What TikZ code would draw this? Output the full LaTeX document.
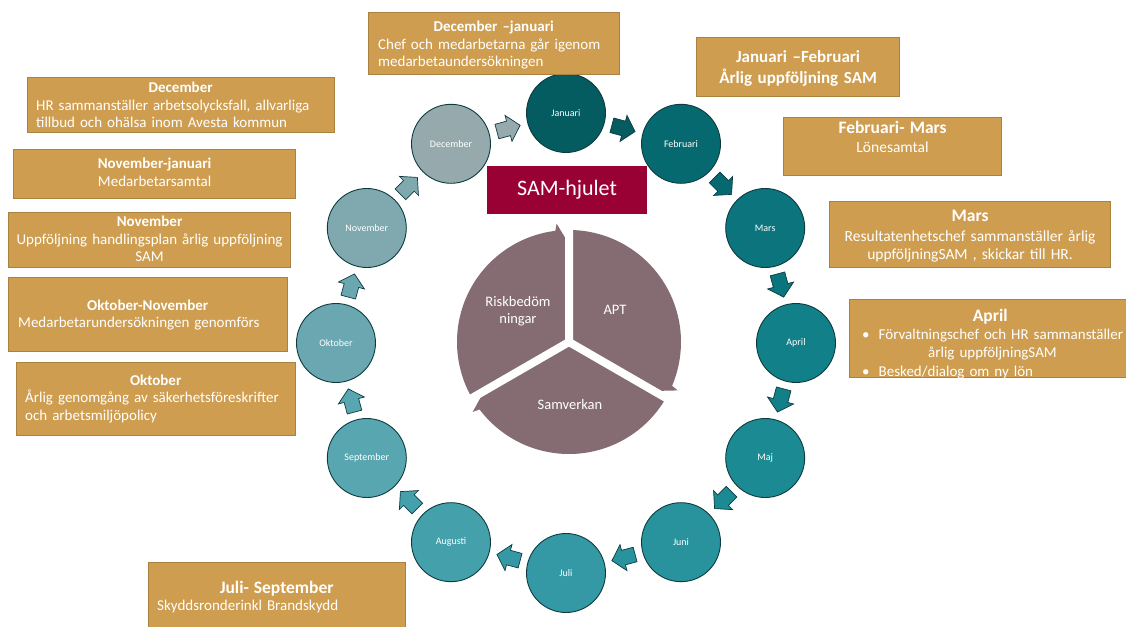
\documentclass[tikz,border=0pt]{standalone}
\usepackage{fontspec}
\setmainfont{Carlito}
\usetikzlibrary{positioning,calc}

\definecolor{cJan}{HTML}{045B60}
\definecolor{cFeb}{HTML}{076970}
\definecolor{cMar}{HTML}{0B747C}
\definecolor{cApr}{HTML}{128088}
\definecolor{cMaj}{HTML}{1B8A92}
\definecolor{cJun}{HTML}{28939C}
\definecolor{cJul}{HTML}{3499A4}
\definecolor{cAug}{HTML}{44A0AB}
\definecolor{cSep}{HTML}{58A6B0}
\definecolor{cOkt}{HTML}{6AA7B0}
\definecolor{cNov}{HTML}{7FA9AF}
\definecolor{cDec}{HTML}{96AAAD}
\definecolor{ringedge}{HTML}{0D3B3F}
\definecolor{boxtan}{HTML}{CF9D4F}
\definecolor{boxedge}{HTML}{A98140}
\definecolor{samred}{HTML}{990033}
\definecolor{wheelcol}{HTML}{846C72}

\newcommand{\headS}[1]{{\fontsize{15}{17.5}\selectfont\bfseries #1}}
\newcommand{\headL}[1]{{\fontsize{17.5}{20}\selectfont\bfseries #1}}

\tikzset{
  month/.style={circle, draw=ringedge, line width=0.9pt, minimum size=79pt, inner sep=0pt,
    text=white, font=\fontsize{10}{12}\selectfont},
  monthstep/.pic={
    \path[draw=ringedge, line width=0.7pt, pic actions]
      (-12,-7.5) -- (0,-7.5) -- (0,-13.5) -- (12,0) -- (0,13.5) -- (0,7.5) -- (-12,7.5) -- cycle;
  },
  notebox/.style={draw=boxedge, fill=boxtan, line width=1.2pt, inner sep=0pt, anchor=north west},
  note/.style={text=white, inner sep=0pt, align=left, font=\fontsize{15}{17.5}\selectfont},
  bignote/.style={text=white, inner sep=0pt, align=center, font=\fontsize{15.5}{18.5}\selectfont},
  wheel/.style={fill=wheelcol},
  wheelgap/.style={draw=white, line width=8pt},
  wheeltext/.style={text=white, align=center, font=\fontsize{14.5}{17}\selectfont},
}

\begin{document}
\begin{tikzpicture}[x=1pt, y=1pt]
\useasboundingbox (-566,-283) rectangle (560,343);

% the year
\node[month, fill=cJan] (jan) at (90:230) {Januari};
\node[month, fill=cFeb] (feb) at (60:230) {Februari};
\node[month, fill=cMar] (mar) at (30:230) {Mars};
\node[month, fill=cApr] (apr) at (0:230) {April};
\node[month, fill=cMaj] (maj) at (-30:230) {Maj};
\node[month, fill=cJun] (jun) at (-60:230) {Juni};
\node[month, fill=cJul] (jul) at (-90:230) {Juli};
\node[month, fill=cAug] (aug) at (-120:230) {Augusti};
\node[month, fill=cSep] (sep) at (-150:230) {September};
\node[month, fill=cOkt] (okt) at (180:230) {Oktober};
\node[month, fill=cNov] (nov) at (150:230) {November};
\node[month, fill=cDec] (dec) at (120:230) {December};

\pic[fill=cDec, rotate=15] at ($(dec)!0.5!(jan)$) {monthstep};
\pic[fill=cJan, rotate=-15] at ($(jan)!0.5!(feb)$) {monthstep};
\pic[fill=cFeb, rotate=-45] at ($(feb)!0.5!(mar)$) {monthstep};
\pic[fill=cMar, rotate=-75] at ($(mar)!0.5!(apr)$) {monthstep};
\pic[fill=cApr, rotate=-105] at ($(apr)!0.5!(maj)$) {monthstep};
\pic[fill=cMaj, rotate=-135] at ($(maj)!0.5!(jun)$) {monthstep};
\pic[fill=cJun, rotate=-165] at ($(jun)!0.5!(jul)$) {monthstep};
\pic[fill=cJul, rotate=165] at ($(jul)!0.5!(aug)$) {monthstep};
\pic[fill=cAug, rotate=135] at ($(aug)!0.5!(sep)$) {monthstep};
\pic[fill=cSep, rotate=105] at ($(sep)!0.5!(okt)$) {monthstep};
\pic[fill=cOkt, rotate=75] at ($(okt)!0.5!(nov)$) {monthstep};
\pic[fill=cNov, rotate=45] at ($(nov)!0.5!(dec)$) {monthstep};

% the wheel in the middle
\begin{scope}[shift={(3,1)}]
\fill[wheel] (0,0) -- (210:112) arc[start angle=210, end angle=97, radius=112] -- (96:119) -- (90:98) -- cycle;
\fill[wheel] (0,0) -- (90:112) arc[start angle=90, end angle=-23, radius=112] -- (-24:119) -- (-30:98) -- cycle;
\fill[wheel] (0,0) -- (-30:112) arc[start angle=-30, end angle=-143, radius=112] -- (-144:119) -- (-150:98) -- cycle;
\draw[wheelgap] (0,0) -- (90:122) (0,0) -- (-30:122) (0,0) -- (210:122);
\end{scope}
\node[wheeltext] (risk) at (-48,31.5) {Riskbedöm\\ningar};
\node[wheeltext] (apt) at (49,33) {APT};
\node[wheeltext] (samv) at (4,-62) {Samverkan};

\node[fill=samred, minimum width=160pt, minimum height=48pt, inner sep=0pt,
  text=white, font=\fontsize{22}{26}\selectfont] (hjul) at (1,153) {SAM-hjulet};

% notes to the right
\node[notebox, minimum width=251pt, minimum height=62pt] (decjanbox) at (-198,331) {};
\node[note, anchor=base west, text width=231pt] at ([xshift=10pt, yshift=-20pt]decjanbox.north west)
  {\makebox[\linewidth]{\headS{December –januari}}\\Chef och medarbetarna går igenom\\medarbetaundersökningen};

\node[notebox, minimum width=203pt, minimum height=59pt] (janfebbox) at (130,306) {};
\node[bignote, anchor=base, text width=203pt, font=\fontsize{17}{21}\selectfont\bfseries]
  at ([yshift=-26pt]janfebbox.north) {Januari –Februari\\Årlig uppföljning SAM};

\node[notebox, minimum width=218pt, minimum height=58pt] (febmarbox) at (217,226) {};
\node[bignote, anchor=base, text width=218pt] at ([yshift=-17pt]febmarbox.north)
  {\headL{Februari- Mars}\\Lönesamtal};

\node[notebox, minimum width=281pt, minimum height=66pt] (marbox) at (263,142) {};
\node[bignote, anchor=base, text width=281pt] at ([yshift=-21pt]marbox.north)
  {\headL{Mars}\\[1pt]Resultatenhetschef sammanställer årlig\\uppföljningSAM , skickar till HR.};

\node[notebox, minimum width=277pt, minimum height=78pt] (aprbox) at (283,44) {};
\node[bignote, align=left, anchor=base west, text width=256pt, font=\fontsize{15}{18.5}\selectfont]
  at ([xshift=13pt, yshift=-22pt]aprbox.north west)
  {\makebox[\linewidth]{\headL{April}}\\
   \mbox{\textbullet\hspace{9pt}Förvaltningschef och HR sammanställer}\\
   \hspace*{66pt}årlig uppföljningSAM\\
   \textbullet\hspace{9pt}Besked/dialog om ny lön};

% notes to the left
\node[notebox, minimum width=307pt, minimum height=55pt] (decbox) at (-539,266) {};
\node[note, anchor=base west, text width=289pt] at ([xshift=9pt, yshift=-16pt]decbox.north west)
  {\makebox[\linewidth]{\headS{December}}\\HR sammanställer arbetsolycksfall, allvarliga\\tillbud och ohälsa inom Avesta kommun};

\node[notebox, minimum width=282pt, minimum height=49pt] (novjanbox) at (-553,194) {};
\node[note, align=center, anchor=base, text width=282pt] at ([yshift=-20pt]novjanbox.north)
  {\headS{November-januari}\\Medarbetarsamtal};

\node[notebox, minimum width=282pt, minimum height=55pt] (novbox) at (-558,131) {};
\node[note, align=center, anchor=base, text width=300pt] at ([yshift=-15pt]novbox.north)
  {\headS{November}\\Uppföljning handlingsplan årlig uppföljning\\SAM};

\node[notebox, minimum width=279pt, minimum height=74pt] (oktnovbox) at (-558,66) {};
\node[note, anchor=base west, text width=259pt] at ([xshift=10pt, yshift=-33pt]oktnovbox.north west)
  {\makebox[\linewidth]{\headS{Oktober-November}}\\Medarbetarundersökningen genomförs};

\node[notebox, minimum width=279pt, minimum height=73pt] (oktbox) at (-550,-19) {};
\node[note, anchor=base west, text width=261pt] at ([xshift=9pt, yshift=-23pt]oktbox.north west)
  {\makebox[\linewidth]{\headS{Oktober}}\\Årlig genomgång av säkerhetsföreskrifter\\och arbetsmiljöpolicy};

\node[notebox, minimum width=257pt, minimum height=70pt] (julsepbox) at (-418,-219) {};
\node[note, anchor=base west, text width=239pt] at ([xshift=9pt, yshift=-31pt]julsepbox.north west)
  {\makebox[\linewidth]{\headL{Juli- September}}\\Skyddsronderinkl Brandskydd};
\end{tikzpicture}
\end{document}
